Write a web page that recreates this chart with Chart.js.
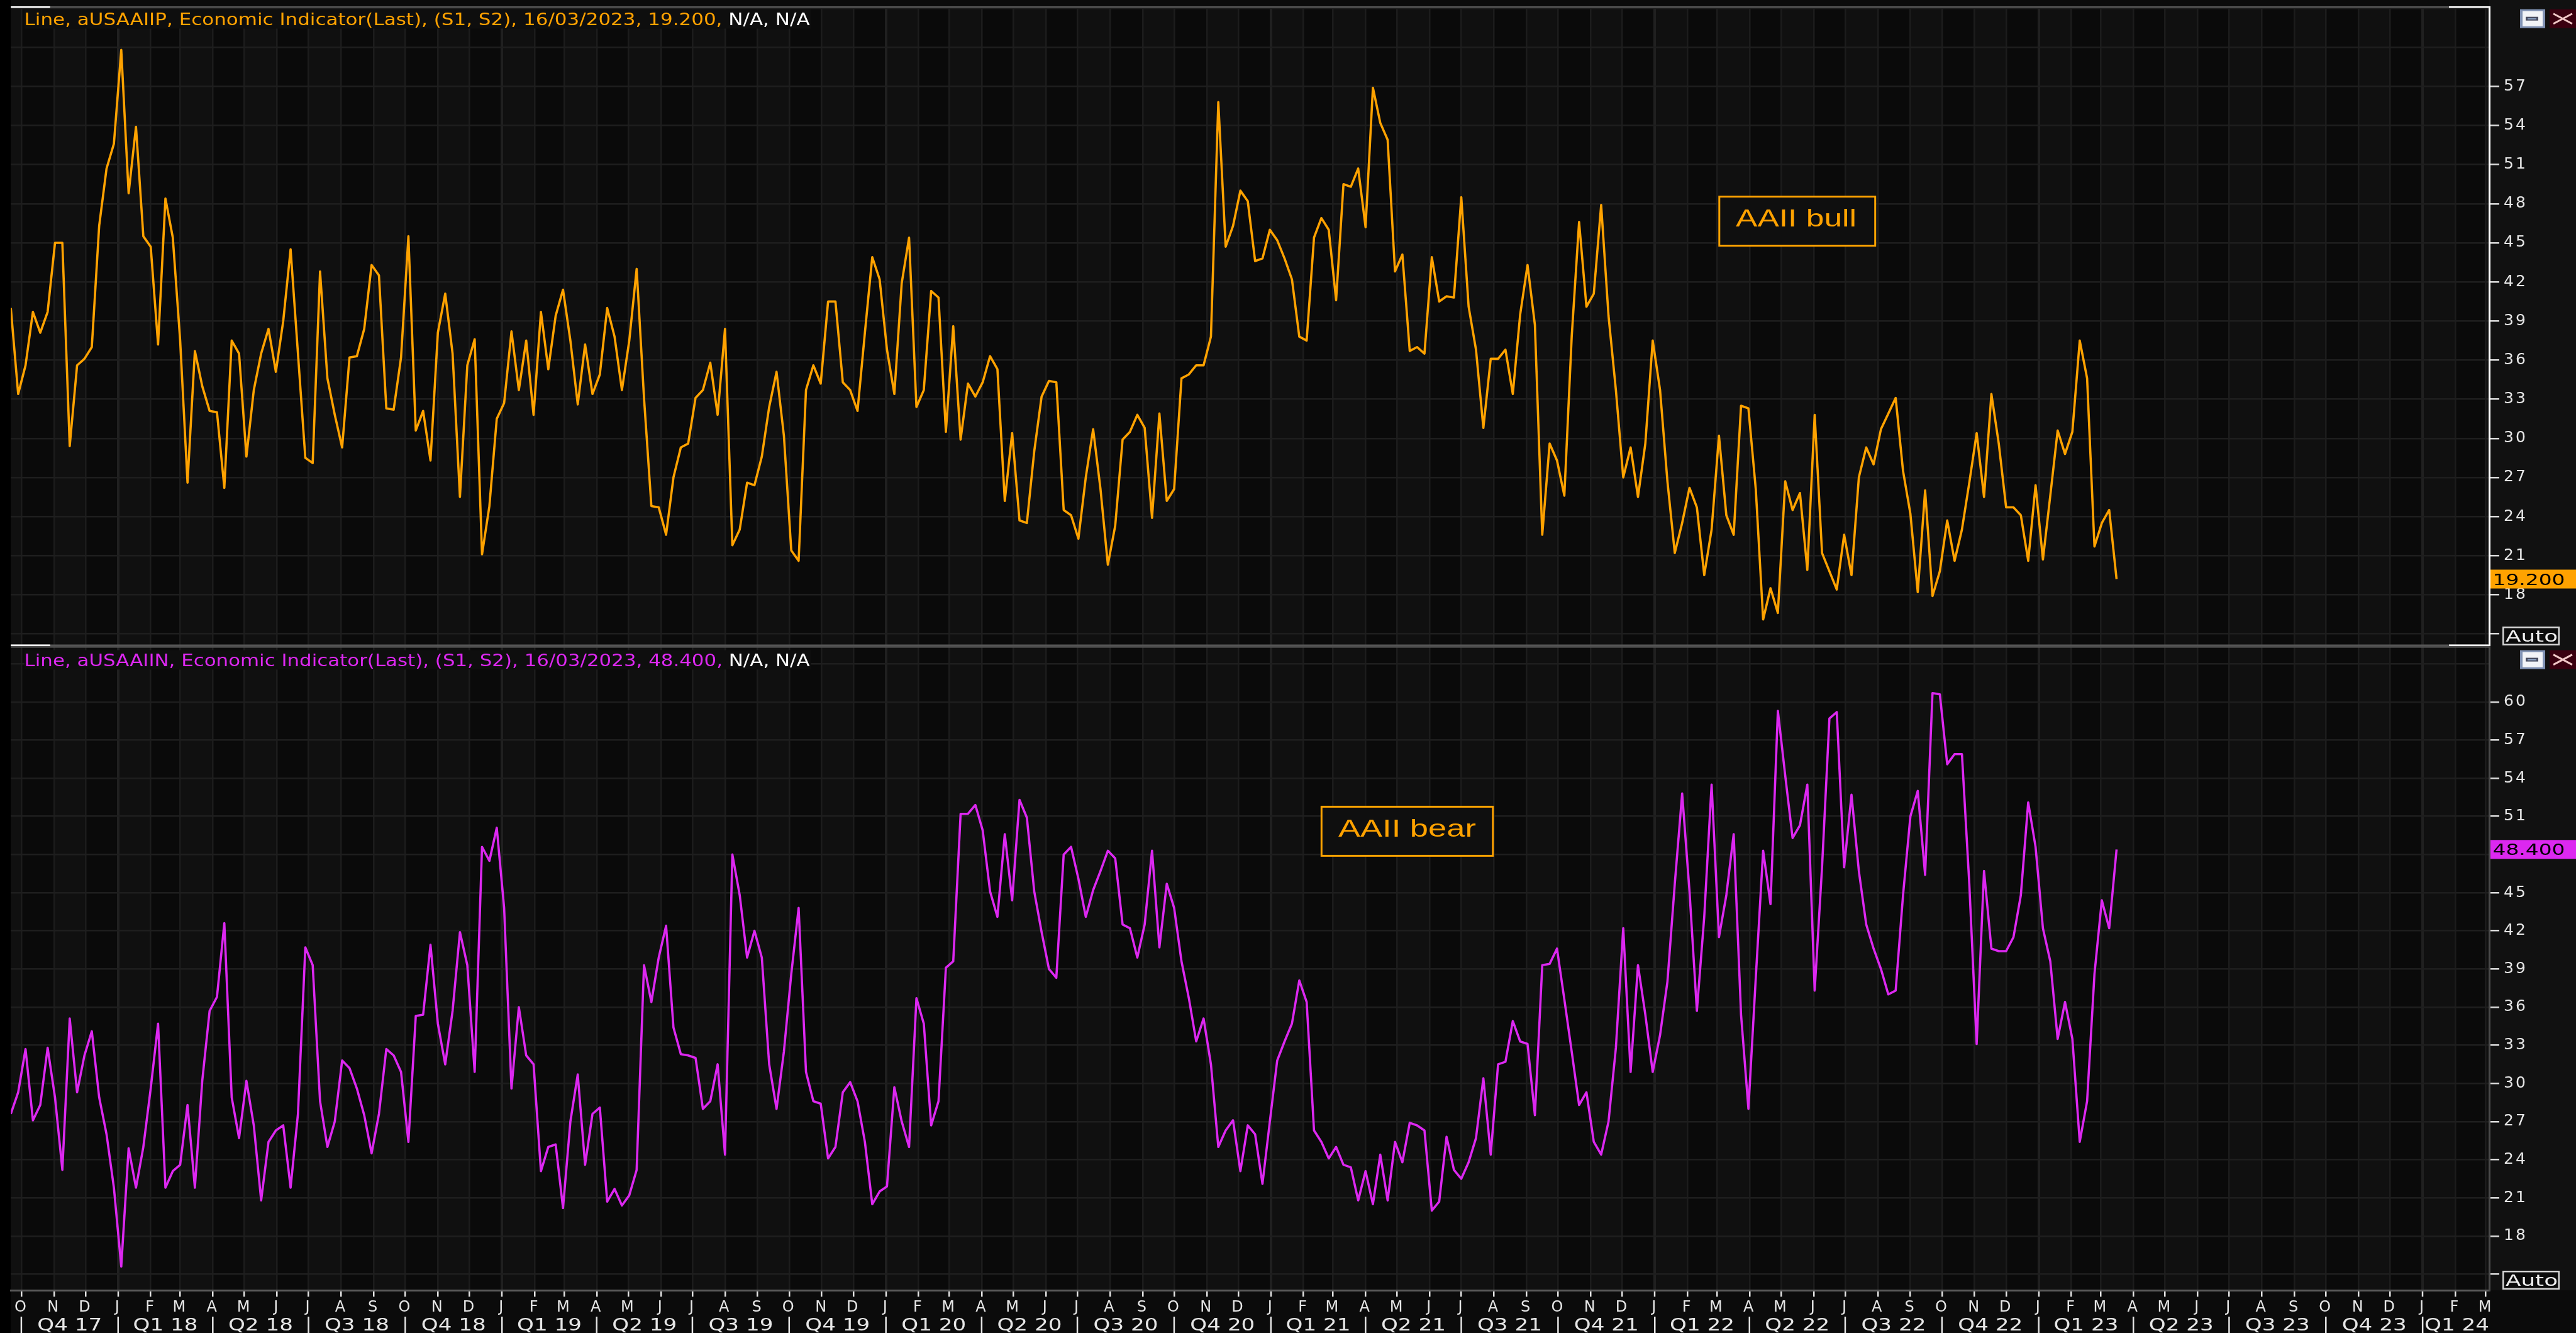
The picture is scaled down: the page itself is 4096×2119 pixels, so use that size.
<!DOCTYPE html>
<html>
<head>
<meta charset="utf-8">
<script src="https://cdn.jsdelivr.net/npm/chart.js@4.4.1/dist/chart.umd.min.js"></script>
<style>
  html, body { margin: 0; padding: 0; background: #0b0b0b; overflow: hidden; }
  #wrap { position: relative; width: 4096px; height: 2119px; }
  canvas { position: absolute; left: 0; }
  #bullChart { top: 0; }
  #bearChart { top: 1027px; }
</style>
</head>
<body>
<div id="wrap">
  <canvas id="bullChart" width="4096" height="1027"></canvas>
  <canvas id="bearChart" width="4096" height="1092"></canvas>
</div>
<script>
// AAII weekly sentiment survey, % readings, one per Thursday from 21/09/2017 to 16/03/2023
const firstWeek = Date.UTC(2017, 8, 21);
const DAY = 86400000;

const bull = [
  40.0, 33.4, 35.6, 39.7, 38.1, 39.7, 45.0, 45.0, 29.4, 35.6,
  36.1, 37.0, 46.3, 50.7, 52.6, 59.8, 48.8, 53.9, 45.5, 44.7,
  37.2, 48.4, 45.4, 37.5, 26.6, 36.7, 34.0, 32.1, 32.0, 26.2,
  37.5, 36.5, 28.6, 33.7, 36.5, 38.4, 35.1, 39.0, 44.5, 36.5,
  28.5, 28.1, 42.8, 34.6, 31.8, 29.3, 36.2, 36.3, 38.4, 43.3,
  42.5, 32.3, 32.2, 36.2, 45.5, 30.6, 32.1, 28.3, 38.1, 41.1,
  36.5, 25.5, 35.6, 37.6, 21.1, 24.8, 31.5, 32.7, 38.2, 33.7,
  37.5, 31.8, 39.7, 35.3, 39.4, 41.4, 37.5, 32.6, 37.2, 33.4,
  34.9, 40.0, 37.8, 33.7, 37.5, 43.0, 33.1, 24.8, 24.7, 22.6,
  27.0, 29.3, 29.6, 33.1, 33.7, 35.8, 31.8, 38.4, 21.8, 23.0,
  26.6, 26.4, 28.6, 32.4, 35.1, 30.2, 21.4, 20.6, 33.7, 35.6,
  34.2, 40.5, 40.5, 34.3, 33.7, 32.1, 38.1, 43.9, 42.2, 36.8,
  33.4, 41.9, 45.4, 32.4, 33.7, 41.3, 40.8, 30.5, 38.6, 29.9,
  34.2, 33.2, 34.3, 36.3, 35.3, 25.2, 30.4, 23.7, 23.5, 29.0,
  33.2, 34.4, 34.3, 24.5, 24.1, 22.3, 27.0, 30.7, 26.1, 20.3,
  23.3, 29.9, 30.5, 31.8, 30.8, 23.9, 31.9, 25.2, 26.1, 34.6,
  34.9, 35.6, 35.6, 37.8, 55.8, 44.7, 46.3, 49.0, 48.2, 43.6,
  43.8, 46.0, 45.2, 43.8, 42.2, 37.8, 37.5, 45.4, 46.9, 46.0,
  40.6, 49.5, 49.3, 50.7, 46.2, 56.9, 54.2, 52.9, 42.8, 44.1,
  36.7, 37.0, 36.5, 43.9, 40.5, 40.9, 40.8, 48.5, 40.1, 36.8,
  30.8, 36.1, 36.1, 36.8, 33.4, 39.5, 43.3, 38.7, 22.6, 29.6,
  28.3, 25.6, 37.8, 46.6, 40.1, 41.1, 47.9, 39.4, 33.7, 27.0,
  29.3, 25.5, 29.6, 37.5, 33.7, 26.7, 21.2, 23.5, 26.2, 24.7,
  19.5, 23.0, 30.2, 24.1, 22.6, 32.5, 32.3, 26.1, 16.1, 18.5,
  16.6, 26.7, 24.5, 25.8, 19.9, 31.8, 21.2, 19.8, 18.4, 22.6,
  19.5, 27.0, 29.3, 28.0, 30.7, 31.9, 33.1, 27.5, 24.2, 18.2,
  26.0, 17.9, 19.8, 23.7, 20.6, 23.0, 26.6, 30.4, 25.5, 33.4,
  29.6, 24.7, 24.7, 24.1, 20.6, 26.4, 20.7, 25.6, 30.6, 28.8,
  30.5, 37.5, 34.6, 21.7, 23.5, 24.5, 19.2
];

const bear = [
  27.6, 29.3, 32.7, 27.1, 28.3, 32.8, 28.9, 23.2, 35.1, 29.3,
  32.2, 34.1, 28.9, 26.0, 21.8, 15.6, 24.9, 21.8, 25.0, 29.6,
  34.7, 21.8, 23.1, 23.6, 28.3, 21.8, 30.2, 35.7, 36.8, 42.6,
  28.9, 25.7, 30.2, 26.7, 20.8, 25.4, 26.3, 26.7, 21.8, 27.6,
  40.7, 39.3, 28.6, 25.0, 27.0, 31.8, 31.2, 29.6, 27.5, 24.5,
  27.6, 32.7, 32.2, 30.9, 25.4, 35.3, 35.4, 40.9, 34.7, 31.5,
  35.7, 41.9, 39.3, 30.9, 48.6, 47.5, 50.1, 43.8, 29.6, 36.0,
  32.2, 31.5, 23.1, 25.0, 25.2, 20.2, 27.0, 30.7, 23.6, 27.6,
  28.1, 20.7, 21.7, 20.4, 21.2, 23.2, 39.3, 36.4, 39.9, 42.4,
  34.4, 32.3, 32.2, 32.0, 28.0, 28.6, 31.5, 24.4, 48.0, 44.8,
  39.9, 42.0, 39.9, 31.5, 28.0, 32.5, 38.6, 43.8, 30.9, 28.6,
  28.4, 24.1, 25.0, 29.3, 30.1, 28.6, 25.4, 20.5, 21.5, 21.9,
  29.7, 27.0, 25.0, 36.7, 34.7, 26.7, 28.6, 39.1, 39.6, 51.2,
  51.2, 51.9, 49.9, 45.1, 43.1, 49.6, 44.4, 52.3, 50.9, 45.1,
  41.9, 39.0, 38.3, 48.0, 48.6, 46.1, 43.1, 45.2, 46.7, 48.3,
  47.7, 42.5, 42.2, 39.9, 42.5, 48.3, 40.7, 45.7, 43.8, 39.6,
  36.7, 33.3, 35.1, 31.5, 25.0, 26.3, 27.1, 23.1, 26.7, 26.0,
  22.1, 27.0, 31.8, 33.3, 34.7, 38.1, 36.4, 26.3, 25.4, 24.1,
  25.0, 23.6, 23.4, 20.8, 23.1, 20.5, 24.4, 20.8, 25.4, 23.8,
  26.9, 26.7, 26.3, 20.0, 20.7, 25.8, 23.2, 22.5, 23.8, 25.7,
  30.4, 24.4, 31.5, 31.7, 34.9, 33.3, 33.1, 27.5, 39.3, 39.4,
  40.6, 36.6, 32.5, 28.3, 29.3, 25.4, 24.4, 27.0, 32.8, 42.2,
  30.9, 39.3, 35.4, 30.9, 33.8, 38.0, 45.7, 52.8, 45.1, 35.7,
  43.1, 53.5, 41.5, 44.8, 49.6, 35.4, 28.0, 38.3, 48.3, 44.1,
  59.3, 54.2, 49.3, 50.3, 53.5, 37.3, 47.0, 58.7, 59.2, 47.0,
  52.7, 46.7, 42.5, 40.6, 39.0, 37.0, 37.3, 44.8, 51.0, 53.0,
  46.4, 60.7, 60.6, 55.1, 55.9, 55.9, 45.7, 33.1, 46.7, 40.6,
  40.4, 40.4, 41.5, 44.8, 52.1, 48.6, 42.2, 39.6, 33.5, 36.4,
  33.5, 25.4, 28.6, 38.6, 44.4, 42.2, 48.4
];

const lastDate = '16/03/2023';
const monthLetters = ['J', 'F', 'M', 'A', 'M', 'J', 'J', 'A', 'S', 'O', 'N', 'D'];
const quarterLabels = ['Q4 17', 'Q1 18', 'Q2 18', 'Q3 18', 'Q4 18', 'Q1 19', 'Q2 19', 'Q3 19', 'Q4 19',
  'Q1 20', 'Q2 20', 'Q3 20', 'Q4 20', 'Q1 21', 'Q2 21', 'Q3 21', 'Q4 21', 'Q1 22', 'Q2 22', 'Q3 22',
  'Q4 22', 'Q1 23', 'Q2 23', 'Q3 23', 'Q4 23', 'Q1 24'];
const gridValues = [15, 18, 21, 24, 27, 30, 33, 36, 39, 42, 45, 48, 51, 54, 57, 60, 63];
const bullMarks = [15, 18, 21, 24, 27, 30, 33, 36, 39, 42, 45, 48, 51, 54, 57];
const bullLabels = [18, 21, 24, 27, 30, 33, 36, 39, 42, 45, 48, 51, 54, 57];
const bearMarks = [15, 18, 21, 24, 27, 30, 33, 36, 39, 42, 45, 48, 51, 54, 57, 60];
const bearLabels = [18, 21, 24, 27, 30, 33, 36, 39, 42, 45, 48, 51, 54, 57, 60];

const ORANGE = '#ffa200';
const MAGENTA = '#dc28f0';
const FONT = '"DejaVu Sans", "Noto Sans", sans-serif';

// x range: first survey week at the left edge, early March 2024 at the right
const xMin = firstWeek;
const xMax = Date.UTC(2018, 0, 1) + 2254.3 * DAY;
const weeks = bull.map((_, i) => firstWeek + i * 7 * DAY);

const monthTicks = [];
for (let k = 2017 * 12 + 9; k <= 2024 * 12 + 2; k++) monthTicks.push(Date.UTC(Math.floor(k / 12), k % 12, 1));
const quarterStarts = monthTicks.filter(t => new Date(t).getUTCMonth() % 3 === 0);

function xAxis(withLabels) {
  return {
    type: 'linear', min: xMin, max: xMax,
    afterBuildTicks: s => { s.ticks = monthTicks.map(v => ({ value: v })); },
    afterFit: s => { s.height = withLabels ? 67.7 : 0; s.paddingLeft = 0; s.paddingRight = 0; },
    grid: {
      color: c => (c.tick && new Date(c.tick.value).getUTCMonth() === 0) ? '#202020' : '#1c1c1c',
      lineWidth: c => (c.tick && new Date(c.tick.value).getUTCMonth() === 0) ? 4 : 2.5,
      drawTicks: withLabels, tickLength: 10, tickWidth: 2.5, tickColor: '#e4e4e4'
    },
    border: { display: withLabels, color: '#5a5a5a', width: 3 },
    ticks: {
      display: withLabels, autoSkip: false, maxRotation: 0, padding: 3, color: '#e6e6e6',
      font: { family: FONT, size: 24 },
      callback: v => monthLetters[new Date(v).getUTCMonth()]
    }
  };
}

function yAxis(min, max, marks, labelled, borderColor) {
  return {
    position: 'right', min: min, max: max,
    afterBuildTicks: s => { s.ticks = gridValues.map(v => ({ value: v })); },
    afterFit: s => { s.width = 138; s.paddingTop = 0; s.paddingBottom = 0; },
    grid: {
      color: '#1e1e1e', lineWidth: 2.5,
      drawTicks: true, tickLength: 16, tickWidth: 2.5,
      tickColor: c => (c.tick && marks.includes(c.tick.value)) ? '#dcdcdc' : 'rgba(0,0,0,0)'
    },
    border: { color: borderColor, width: 3 },
    ticks: {
      color: '#e6e6e6', padding: 7, font: { family: FONT, size: 25 },
      callback: v => labelled.includes(v) ? String(v) : ''
    }
  };
}

function fitText(ctx, text, x, base, width, font, color) {
  ctx.save();
  ctx.letterSpacing = '0px';
  ctx.font = font;
  const w = ctx.measureText(text).width;
  ctx.translate(x, base);
  ctx.scale(width / w, 1);
  ctx.fillStyle = color;
  ctx.textAlign = 'left';
  ctx.textBaseline = 'alphabetic';
  ctx.fillText(text, 0, 0);
  ctx.restore();
}

function drawIcons(ctx, y) {
  ctx.fillStyle = '#8092b4';
  ctx.fillRect(4007, y, 40, 30);
  ctx.fillStyle = '#f2f4f8';
  ctx.fillRect(4011, y + 3, 32, 24);
  ctx.fillStyle = '#4a4e62';
  ctx.fillRect(4016, y + 12, 20, 6);
  ctx.fillStyle = '#9ab4d8';
  ctx.fillRect(4019, y + 14.5, 14, 1.5);
  ctx.fillStyle = '#3a0010';
  ctx.fillRect(4054, y, 42, 30);
  ctx.strokeStyle = '#f2c8c8';
  ctx.lineWidth = 3;
  ctx.beginPath();
  ctx.moveTo(4060, y + 7); ctx.lineTo(4090, y + 23);
  ctx.moveTo(4060, y + 23); ctx.lineTo(4090, y + 7);
  ctx.stroke();
}

function panelPlugin(p) {
  return {
    id: 'panel_' + p.code,
    beforeDraw(chart) {
      const ctx = chart.ctx, a = chart.chartArea, xs = chart.scales.x;
      ctx.save();
      ctx.fillStyle = '#0b0b0b';
      ctx.fillRect(0, 0, chart.width, chart.height);
      ctx.fillStyle = '#000';
      ctx.fillRect(0, 0, a.left, chart.height);
      ctx.fillStyle = '#111';
      ctx.fillRect(a.right, 0, chart.width - a.right, p.isTop ? chart.height : a.bottom);
      // alternating month bands
      for (let k = 2017 * 12 + 8; k <= 2024 * 12 + 2; k++) {
        const t0 = Date.UTC(Math.floor(k / 12), k % 12, 1);
        const t1 = Date.UTC(Math.floor((k + 1) / 12), (k + 1) % 12, 1);
        const x0 = Math.max(a.left, xs.getPixelForValue(t0));
        const x1 = Math.min(a.right, xs.getPixelForValue(t1));
        if (x1 <= x0) continue;
        ctx.fillStyle = (k % 12) % 2 === 0 ? '#101010' : '#0a0a0a';
        ctx.fillRect(x0, a.top, x1 - x0, a.bottom - a.top);
      }
      ctx.restore();
      ctx.letterSpacing = '3px';
    },
    afterDraw(chart) {
      const ctx = chart.ctx, a = chart.chartArea, ys = chart.scales.y, xs = chart.scales.x;
      const series = p.series, last = series[series.length - 1];
      ctx.save();
      ctx.letterSpacing = '0px';

      // frame lines
      ctx.fillStyle = '#555';
      ctx.fillRect(a.left, a.top - 1, a.right - a.left, 2.5);
      if (p.isTop) {
        ctx.fillRect(a.left, a.bottom - 2.5, a.right - a.left, 2.5);
        ctx.fillStyle = '#ffffff';
        ctx.fillRect(a.left, a.top - 1, 62.5, 2.5);
        ctx.fillRect(3894, a.top - 1, a.right + 2 - 3894, 2.5);
        ctx.fillRect(a.left, a.bottom - 2.5, 62.5, 2.5);
        ctx.fillRect(3894, a.bottom - 2.5, a.right + 2 - 3894, 2.5);
      }

      // series legend line
      const main = 'Line, ' + p.code + ', Economic Indicator(Last), (S1, S2), ' + lastDate + ', ' + last.toFixed(3) + ', ';
      const tail = 'N/A, N/A';
      ctx.fillStyle = '#0e0e0e';
      ctx.fillRect(38.6, p.legendTop, 1251, 30.7);
      ctx.font = '26px ' + FONT;
      const w1 = ctx.measureText(main).width, w2 = ctx.measureText(tail).width;
      ctx.save();
      ctx.translate(38.6, p.legendBase);
      ctx.scale(1249 / (w1 + w2), 1);
      ctx.fillStyle = p.color;
      ctx.fillText(main, 0, 0);
      ctx.fillStyle = '#ffffff';
      ctx.fillText(tail, w1, 0);
      ctx.restore();

      // text annotation box
      const n = p.note;
      ctx.fillStyle = '#0f0f0f';
      ctx.fillRect(n.x, n.y, n.w, n.h);
      ctx.strokeStyle = ORANGE;
      ctx.lineWidth = 3;
      ctx.strokeRect(n.x + 1.5, n.y + 1.5, n.w - 3, n.h - 3);
      fitText(ctx, n.text, n.textX, n.base, n.textW, '39px "Liberation Sans", Arial, sans-serif', ORANGE);

      // last value flag on the axis
      const vy = ys.getPixelForValue(last);
      ctx.fillStyle = p.color;
      ctx.fillRect(a.right + 2, vy - 15, chart.width - a.right - 2, 30);
      fitText(ctx, last.toFixed(3), 3963.5, vy + 9, 115, '24px ' + FONT, '#000');

      // Auto box
      ctx.fillStyle = '#0b0b0b';
      ctx.fillRect(3979, p.autoY, 91, 30);
      ctx.strokeStyle = '#d8d8d8';
      ctx.lineWidth = 2.5;
      ctx.strokeRect(3980.25, p.autoY + 1.25, 88.5, 27.5);
      fitText(ctx, 'Auto', 3984, p.autoY + 24, 83, '25px ' + FONT, '#f0f0f0');

      drawIcons(ctx, p.iconY);

      // quarter row under the month letters
      if (!p.isTop) {
        ctx.fillStyle = '#e4e4e4';
        const qw = 103;
        quarterStarts.forEach((t, k) => {
          const px = xs.getPixelForValue(t);
          ctx.fillRect(px - 1.25, 1066, 2.5, 26);
          const nextT = Date.UTC(new Date(t).getUTCFullYear(), new Date(t).getUTCMonth() + 3, 1);
          let cx = (px + xs.getPixelForValue(nextT)) / 2;
          cx = Math.min(cx, a.right - qw / 2);
          fitText(ctx, quarterLabels[k], cx - qw / 2, 1088, qw, '26px ' + FONT, '#e6e6e6');
        });
      }
      ctx.restore();
    }
  };
}

function makeChart(id, series, color, yMin, yMax, marks, labelled, axisColor, padTop, withX, plugin) {
  return new Chart(document.getElementById(id), {
    type: 'line',
    data: {
      datasets: [{
        data: series.map((v, i) => ({ x: weeks[i], y: v })),
        borderColor: color, borderWidth: 3.6, borderJoinStyle: 'round',
        pointRadius: 0, tension: 0, fill: false
      }]
    },
    options: {
      responsive: false, animation: false, devicePixelRatio: 1,
      layout: { padding: { left: 17.2, top: padTop, right: 0, bottom: 0 } },
      plugins: { legend: { display: false }, tooltip: { enabled: false } },
      scales: { x: xAxis(withX), y: yAxis(yMin, yMax, marks, labelled, axisColor) }
    },
    plugins: [plugin]
  });
}

makeChart('bullChart', bull, ORANGE, 14.06, 63.1, bullMarks, bullLabels, '#ffffff', 11, false, panelPlugin({
  isTop: true, series: bull, color: ORANGE, code: 'aUSAAIIP',
  legendTop: 14.7, legendBase: 40, iconY: 14.7, autoY: 996,
  note: { text: 'AAII bull', x: 2732.3, y: 311, w: 250.9, h: 81, textX: 2760, textW: 192, base: 360 }
}));

makeChart('bearChart', bear, MAGENTA, 13.72, 64.34, bearMarks, bearLabels, '#4a4a4a', 1.1, true, panelPlugin({
  isTop: false, series: bear, color: MAGENTA, code: 'aUSAAIIN',
  legendTop: 6.6, legendBase: 32.4, iconY: 6.6, autoY: 993,
  note: { text: 'AAII bear', x: 2099.8, y: 253.9, w: 275.5, h: 81, textX: 2128, textW: 219, base: 303 }
}));
</script>
</body>
</html>
